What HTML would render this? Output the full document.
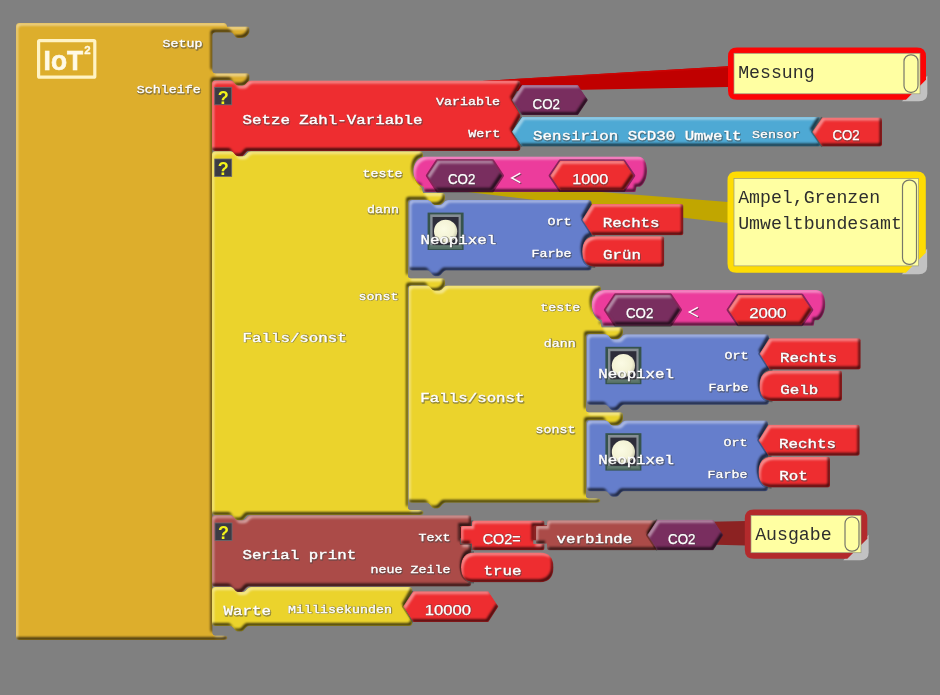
<!DOCTYPE html>
<html><head><meta charset="utf-8"><title>ArduBlock</title>
<style>
html,body{margin:0;padding:0;background:#808080;}
body{width:940px;height:695px;overflow:hidden;}
svg{display:block;filter:blur(.45px)}
text{font-family:"Liberation Mono",monospace;}
.L,.M{font-size:15.8px;fill:#fff;stroke:#fff;stroke-width:.45px;}
.S{font-size:13.35px;fill:#fff;stroke:#fff;stroke-width:.4px;}
.V{font-family:"Liberation Sans",sans-serif;font-size:13.8px;fill:#fff;stroke:#fff;stroke-width:.25px;}
.V.sh{stroke-width:1.3px !important;opacity:.45;}
.sh{fill:#444;stroke:#444 !important;stroke-width:1.7px !important;stroke-linejoin:round;opacity:.5;}
.cm{font-size:18.2px;fill:#2e2e2e;}
.q{font-family:"Liberation Sans",sans-serif;font-weight:bold;font-size:18px;fill:#f4f41a;}
.iot{font-family:"Liberation Sans",sans-serif;font-weight:bold;fill:#fffae6;stroke:#fffae6;stroke-width:.7px;}
</style></head><body>
<svg width="940" height="695" viewBox="0 0 940 695">
<defs>
<filter id="bv" x="-5%" y="-20%" width="110%" height="140%" color-interpolation-filters="sRGB">
  <feOffset in="SourceAlpha" dx="2" dy="2.6" result="o1"/>
  <feComposite in="SourceAlpha" in2="o1" operator="out" result="hl0"/>
  <feGaussianBlur in="hl0" stdDeviation="0.9" result="hl1"/>
  <feFlood flood-color="#ffffff" flood-opacity="0.48"/>
  <feComposite in2="hl1" operator="in" result="hl"/>
  <feOffset in="SourceAlpha" dx="-2.3" dy="-2.8" result="o2"/>
  <feComposite in="SourceAlpha" in2="o2" operator="out" result="sd0"/>
  <feGaussianBlur in="sd0" stdDeviation="0.95" result="sd1"/>
  <feFlood flood-color="#000000" flood-opacity="0.72"/>
  <feComposite in2="sd1" operator="in" result="sd"/>
  <feMerge result="m"><feMergeNode in="SourceGraphic"/><feMergeNode in="hl"/><feMergeNode in="sd"/></feMerge>
  <feComposite in="m" in2="SourceAlpha" operator="in"/>
</filter>
<radialGradient id="led" cx="0.42" cy="0.4" r="0.6">
  <stop offset="0" stop-color="#fbfbe4"/><stop offset="0.75" stop-color="#f3f2d4"/><stop offset="1" stop-color="#cfcfb4"/>
</radialGradient>
</defs>
<rect width="940" height="695" fill="#808080"/>

<path d="M212,97 L728,66.3 L728,87 Z" fill="#C00000"/>
<path d="M212,97 L728,66.3 L728,68 Z" fill="#CC0404"/>
<path d="M212,161.5 L728,202 L728,223 Z" fill="#C1A600"/>
<path d="M212,532 L746,521 L746,545.5 Z" fill="#8C2222"/>
<path d="M16,26 Q16,23 19,23 H224 Q227,23 227,26.5 H247.0 Q249.5,26.5 249.5,29.0 V31.1 C249.5,34.6 245.5,38.1 242.0,38.1 h-4 C234.5,38.1 234.0,32.6 230.5,32.6 H215.5 Q212.5,32.6 212.5,35.6 V70.2 Q212.5,73.2 215.5,73.2 H247.0 Q249.5,73.2 249.5,75.7 V78.8 C249.5,82.3 245.5,85.8 242.0,85.8 h-4 C234.5,85.8 234.0,80.3 230.5,80.3 H215.5 Q212.5,80.3 212.5,83.3 V632.4 Q212.5,635.4 215.5,635.4 H223.5 Q227.4,635.4 227.4,637.8 Q227.4,640 223.5,640 H19 Q16,640 16,637 Z" fill="#DDAE2C" filter="url(#bv)"/>
<rect x="38.6" y="40.6" width="56.2" height="36.6" rx="1" fill="none" stroke="#fff3c4" stroke-width="3.2"/>
<text class="iot" x="43.6" y="69.8" font-size="28" textLength="39.5" lengthAdjust="spacingAndGlyphs">IoT</text>
<text class="iot" x="84.2" y="54" font-size="11.5" style="stroke-width:.3px">2</text>
<g transform="translate(202.6,47) scale(1,0.85)"><text class="S sh" x=".6" y=".7" text-anchor="end">Setup</text><text class="S" text-anchor="end">Setup</text></g>
<g transform="translate(200.7,93.1) scale(1,0.85)"><text class="S sh" x=".6" y=".7" text-anchor="end">Schleife</text><text class="S" text-anchor="end">Schleife</text></g>
<path d="M212,83.5 Q212,80.5 215,80.5 H230.5 c3.5,0 4.5,5 8,5 h4 c3.5,0 4.5,-5 8.5,-5 H517.5 Q520.5,80.5 520.5,83.5 V85 L512.0,100 L520.5,115 V116.69999999999999 L512.0,131.7 L520.5,146.7 V148.0 Q520.5,151.0 517.5,151.0 H249 c-3.5,0 -4.5,5.6 -8,5.6 h-3 c-3.5,0 -4.5,-5.6 -8,-5.6 H215 Q212,151.0 212,148.0 Z" fill="#EE2D30" filter="url(#bv)"/>
<rect x="214.7" y="87.3" width="17" height="17.5" fill="#3b3b44" stroke="#6a6a70" stroke-width="0.8"/>
<text x="223.29999999999998" y="103.69999999999999" text-anchor="middle" class="q">?</text>
<g transform="translate(242.5,124) scale(1,0.85)"><text class="L sh" x=".6" y=".7">Setze Zahl-Variable</text><text class="L">Setze Zahl-Variable</text></g>
<g transform="translate(500,105.2) scale(1,0.85)"><text class="S sh" x=".6" y=".7" text-anchor="end">Variable</text><text class="S" text-anchor="end">Variable</text></g>
<g transform="translate(500.2,137) scale(1,0.85)"><text class="S sh" x=".6" y=".7" text-anchor="end">Wert</text><text class="S" text-anchor="end">Wert</text></g>
<path d="M522,85 L512,100.0 L522,115" fill="none" stroke="#000" stroke-opacity="0.3" stroke-width="2.6" stroke-linejoin="round"/>
<path d="M512,100.0 L522,85 H578 L588,100.0 L578,115 H522 Z" fill="#792E5F" filter="url(#bv)"/>
<text class="V sh" x="533.1999999999999" y="109.4" textLength="27.4" lengthAdjust="spacingAndGlyphs">CO2</text><text class="V" x="532.5999999999999" y="108.7" textLength="27.4" lengthAdjust="spacingAndGlyphs">CO2</text>
<path d="M522,117 L512,131.8 L522,146.6" fill="none" stroke="#000" stroke-opacity="0.3" stroke-width="2.6" stroke-linejoin="round"/>
<path d="M512,131.8 L522,117 H818.5 Q820.5,117 820.5,118 L812.0,131.8 L820.5,145.6 Q820.5,146.6 818.5,146.6 H522 Z" fill="#4EA9D4" filter="url(#bv)"/>
<g transform="translate(533,140.3) scale(1,0.85)"><text class="L sh" x=".6" y=".7">Sensirion SCD30 Umwelt</text><text class="L">Sensirion SCD30 Umwelt</text></g>
<g transform="translate(800,137.8) scale(1,0.85)"><text class="S sh" x=".6" y=".7" text-anchor="end">Sensor</text><text class="S" text-anchor="end">Sensor</text></g>
<path d="M822.3,117.6 L812.3,132.1 L822.3,146.6" fill="none" stroke="#000" stroke-opacity="0.3" stroke-width="2.6" stroke-linejoin="round"/>
<path d="M812.3,132.1 L822.3,117.6 H880.0 Q882.0,117.6 882.0,119.6 V144.6 Q882.0,146.6 880.0,146.6 H822.3 Z" fill="#EE2D30" filter="url(#bv)"/>
<text class="V sh" x="833.0" y="141.1" textLength="27.2" lengthAdjust="spacingAndGlyphs">CO2</text><text class="V" x="832.4" y="140.4" textLength="27.2" lengthAdjust="spacingAndGlyphs">CO2</text>
<path d="M212,154.3 Q212,151.3 215,151.3 H230.5 c3.5,0 4.5,5 8,5 h4 c3.5,0 4.5,-5 8.5,-5 H420 Q423,151.3 423,154.3 V157.0 C410.9,157.5 409.9,181.5 421.9,187.8 L422.9,192.0 L423.4,193 H442.5 Q445,193 445,195.5 V198.2 C445,201.7 441,205.2 437.5,205.2 h-4 C430,205.2 429.5,199.7 426,199.7 H411 Q408,199.7 408,202.7 V275.3 Q408,278.3 411,278.3 H442.5 Q445,278.3 445,280.8 V284.0 C445,287.5 441,291.0 437.5,291.0 h-4 C430,291.0 429.5,285.5 426,285.5 H411 Q408,285.5 408,288.5 V507 Q408,510 411,510 H420.1 Q423.6,510 423.6,512.5 Q423.6,515 420.1,515 H249 c-3.5,0 -4.5,5.6 -8,5.6 h-3 c-3.5,0 -4.5,-5.6 -8,-5.6 H215 Q212,515 212,512 Z" fill="#EBD32C" filter="url(#bv)"/>
<rect x="214.7" y="159" width="17" height="17.5" fill="#3b3b44" stroke="#6a6a70" stroke-width="0.8"/>
<text x="223.29999999999998" y="175.4" text-anchor="middle" class="q">?</text>
<g transform="translate(242.5,341.6) scale(1,0.85)"><text class="L sh" x=".6" y=".7">Falls/sonst</text><text class="L">Falls/sonst</text></g>
<g transform="translate(402.5,177.2) scale(1,0.85)"><text class="S sh" x=".6" y=".7" text-anchor="end">teste</text><text class="S" text-anchor="end">teste</text></g>
<g transform="translate(399,213.2) scale(1,0.85)"><text class="S sh" x=".6" y=".7" text-anchor="end">dann</text><text class="S" text-anchor="end">dann</text></g>
<g transform="translate(398.5,299.5) scale(1,0.85)"><text class="S sh" x=".6" y=".7" text-anchor="end">sonst</text><text class="S" text-anchor="end">sonst</text></g>
<path d="M426.4,156.5 H638.0 C644.0,156.5 647.0,162.5 647.0,171.0 C647.0,178.5 644.0,184.5 640.0,186.8 L636.5,186.8 L635.5,192.0 H424.4 L423.4,186.8 C417.4,184.5 413.4,178.5 413.4,171.5 C413.4,163.5 418.4,156.5 426.4,156.5 Z" fill="#EC3C9C" filter="url(#bv)"/>
<path d="M427.4,175.65 L437.4,160.5 H492.4 L502.4,175.65 L492.4,190.8 H437.4 Z" fill="none" stroke="#000" stroke-opacity="0.42" stroke-width="3.2" stroke-linejoin="round"/>
<path d="M427.4,175.65 L437.4,160.5 H492.4 L502.4,175.65 L492.4,190.8 H437.4 Z" fill="#792E5F" filter="url(#bv)"/>
<text class="V sh" x="448.50000000000006" y="184.6" textLength="27.4" lengthAdjust="spacingAndGlyphs">CO2</text><text class="V" x="447.90000000000003" y="183.9" textLength="27.4" lengthAdjust="spacingAndGlyphs">CO2</text>
<path d="M521.3,174.20000000000002 L512.7,178.9 L521.3,183.6" fill="none" stroke="#3a3a3a" stroke-opacity=".6" stroke-width="1.4"/>
<path d="M520.3,173.20000000000002 L511.7,177.9 L520.3,182.6" fill="none" stroke="#fff" stroke-width="1.4"/>
<path d="M550.2,175.65 L560.2,160.8 H623.7 L633.7,175.65 L623.7,190.5 H560.2 Z" fill="none" stroke="#000" stroke-opacity="0.42" stroke-width="3.2" stroke-linejoin="round"/>
<path d="M550.2,175.65 L560.2,160.8 H623.7 L633.7,175.65 L623.7,190.5 H560.2 Z" fill="#EE2D30" filter="url(#bv)"/>
<text class="V sh" x="572.8000000000001" y="184.6" textLength="36" lengthAdjust="spacingAndGlyphs">1000</text><text class="V" x="572.2" y="183.9" textLength="36" lengthAdjust="spacingAndGlyphs">1000</text>
<path d="M409.2,203 Q409.2,200 412.2,200 H427.7 c3.5,0 4.5,5 8,5 h4 c3.5,0 4.5,-5 8.5,-5 H588.7 Q591.7,200 591.7,203 V204 L583.2,219 L591.7,234 V236 C579.73,237 579.73,265 591.7,266 V267.6 Q591.7,270.6 588.7,270.6 H446.2 c-3.5,0 -4.5,5.6 -8,5.6 h-3 c-3.5,0 -4.5,-5.6 -8,-5.6 H412.2 Q409.2,270.6 409.2,267.6 Z" fill="#657ECC" filter="url(#bv)"/>
<g transform="translate(427.59999999999997,212.6)"><rect width="36" height="37.4" fill="#36534d"/><rect x="2.6" y="1.8" width="30.6" height="33" fill="#858d93"/><rect x="5" y="4.4" width="26" height="28.5" fill="#2d2d39"/><circle cx="18" cy="18.7" r="11.6" fill="url(#led)"/><rect x="1.5" y="32.6" width="33" height="3.8" fill="#5a7568" opacity="0.85"/></g>
<g transform="translate(420.4,243.8) scale(1,0.85)"><text class="L sh" x=".6" y=".7">Neopixel</text><text class="L">Neopixel</text></g>
<g transform="translate(571.5,225) scale(1,0.85)"><text class="S sh" x=".6" y=".7" text-anchor="end">Ort</text><text class="S" text-anchor="end">Ort</text></g>
<g transform="translate(571.5,257) scale(1,0.85)"><text class="S sh" x=".6" y=".7" text-anchor="end">Farbe</text><text class="S" text-anchor="end">Farbe</text></g>
<path d="M592.2,204.1 L582.2,219.65 L592.2,235.2" fill="none" stroke="#000" stroke-opacity="0.3" stroke-width="2.6" stroke-linejoin="round"/>
<path d="M582.2,219.65 L592.2,204.1 H681.4000000000001 Q683.4000000000001,204.1 683.4000000000001,206.1 V233.2 Q683.4000000000001,235.2 681.4000000000001,235.2 H592.2 Z" fill="#EE2D30" filter="url(#bv)"/>
<g transform="translate(602.7,227.4) scale(1,0.85)"><text class="M sh" x=".6" y=".7">Rechts</text><text class="M">Rechts</text></g>
<path d="M595.2,236.2 C587.2,236.2 582.2,241.2 582.2,251.5 C582.2,261.8 587.2,266.8 595.2,266.8" fill="none" stroke="#000" stroke-opacity="0.3" stroke-width="2.6" stroke-linejoin="round"/>
<path d="M582.2,251.5 C582.2,241.2 587.2,236.2 595.2,236.2 H662.2 Q664.2,236.2 664.2,238.2 V264.8 Q664.2,266.8 662.2,266.8 H595.2 C587.2,266.8 582.2,261.8 582.2,251.5 Z" fill="#EE2D30" filter="url(#bv)"/>
<g transform="translate(603.0,259.4) scale(1,0.85)"><text class="M sh" x=".6" y=".7">Grün</text><text class="M">Grün</text></g>
<path d="M408.5,288.5 Q408.5,285.5 411.5,285.5 H427.0 c3.5,0 4.5,5 8,5 h4 c3.5,0 4.5,-5 8.5,-5 H598 Q601,285.5 601,288.5 V290.5 C589.3,291 588.3,315 600.3,321.3 L601.3,325.5 L601.8,327.3 H620.5 Q623,327.3 623,329.8 V332.5 C623,336 619,339.5 615.5,339.5 h-4 C608,339.5 607.5,334 604,334 H589 Q586,334 586,337 V409.2 Q586,412.2 589,412.2 H620.5 Q623,412.2 623,414.7 V418.5 C623,422 619,425.5 615.5,425.5 h-4 C608,425.5 607.5,420 604,420 H589 Q586,420 586,423 V495.3 Q586,498.3 589,498.3 H596.9 Q600.4,498.3 600.4,500.55 Q600.4,502.8 596.9,502.8 H445.5 c-3.5,0 -4.5,5.6 -8,5.6 h-3 c-3.5,0 -4.5,-5.6 -8,-5.6 H411.5 Q408.5,502.8 408.5,499.8 Z" fill="#EBD32C" filter="url(#bv)"/>
<g transform="translate(420.3,402.3) scale(1,0.85)"><text class="L sh" x=".6" y=".7">Falls/sonst</text><text class="L">Falls/sonst</text></g>
<g transform="translate(580.2,310.8) scale(1,0.85)"><text class="S sh" x=".6" y=".7" text-anchor="end">teste</text><text class="S" text-anchor="end">teste</text></g>
<g transform="translate(575.8,346.7) scale(1,0.85)"><text class="S sh" x=".6" y=".7" text-anchor="end">dann</text><text class="S" text-anchor="end">dann</text></g>
<g transform="translate(575.5,433) scale(1,0.85)"><text class="S sh" x=".6" y=".7" text-anchor="end">sonst</text><text class="S" text-anchor="end">sonst</text></g>
<path d="M604.8,290 H816.1999999999999 C822.1999999999999,290 825.1999999999999,296 825.1999999999999,304.5 C825.1999999999999,312 822.1999999999999,318 818.1999999999999,320.3 L814.6999999999999,320.3 L813.6999999999999,325.8 H602.8 L601.8,320.3 C595.8,318 591.8,312 591.8,305 C591.8,297 596.8,290 604.8,290 Z" fill="#EC3C9C" filter="url(#bv)"/>
<path d="M605.4,309.95 L615.4,294.8 H670.4 L680.4,309.95 L670.4,325.1 H615.4 Z" fill="none" stroke="#000" stroke-opacity="0.42" stroke-width="3.2" stroke-linejoin="round"/>
<path d="M605.4,309.95 L615.4,294.8 H670.4 L680.4,309.95 L670.4,325.1 H615.4 Z" fill="#792E5F" filter="url(#bv)"/>
<text class="V sh" x="626.5" y="318.59999999999997" textLength="27.4" lengthAdjust="spacingAndGlyphs">CO2</text><text class="V" x="625.9" y="317.9" textLength="27.4" lengthAdjust="spacingAndGlyphs">CO2</text>
<path d="M698.9,308.3 L690.3,313 L698.9,317.7" fill="none" stroke="#3a3a3a" stroke-opacity=".6" stroke-width="1.4"/>
<path d="M697.9,307.3 L689.3,312 L697.9,316.7" fill="none" stroke="#fff" stroke-width="1.4"/>
<path d="M728.2,309.85 L738.2,295 H801.7 L811.7,309.85 L801.7,324.7 H738.2 Z" fill="none" stroke="#000" stroke-opacity="0.42" stroke-width="3.2" stroke-linejoin="round"/>
<path d="M728.2,309.85 L738.2,295 H801.7 L811.7,309.85 L801.7,324.7 H738.2 Z" fill="#EE2D30" filter="url(#bv)"/>
<text class="V sh" x="749.75" y="318.4" textLength="37.3" lengthAdjust="spacingAndGlyphs">2000</text><text class="V" x="749.15" y="317.7" textLength="37.3" lengthAdjust="spacingAndGlyphs">2000</text>
<path d="M587,337.2 Q587,334.2 590,334.2 H605.5 c3.5,0 4.5,5 8,5 h4 c3.5,0 4.5,-5 8.5,-5 H766 Q769,334.2 769,337.2 V338.2 L760.5,353.2 L769,368.2 V370.2 C757.03,371.2 757.03,399.2 769,400.2 V401.79999999999995 Q769,404.79999999999995 766,404.79999999999995 H624 c-3.5,0 -4.5,5.6 -8,5.6 h-3 c-3.5,0 -4.5,-5.6 -8,-5.6 H590 Q587,404.79999999999995 587,401.79999999999995 Z" fill="#657ECC" filter="url(#bv)"/>
<g transform="translate(605.4,346.8)"><rect width="36" height="37.4" fill="#36534d"/><rect x="2.6" y="1.8" width="30.6" height="33" fill="#858d93"/><rect x="5" y="4.4" width="26" height="28.5" fill="#2d2d39"/><circle cx="18" cy="18.7" r="11.6" fill="url(#led)"/><rect x="1.5" y="32.6" width="33" height="3.8" fill="#5a7568" opacity="0.85"/></g>
<g transform="translate(598.2,378.0) scale(1,0.85)"><text class="L sh" x=".6" y=".7">Neopixel</text><text class="L">Neopixel</text></g>
<g transform="translate(748.5,359.2) scale(1,0.85)"><text class="S sh" x=".6" y=".7" text-anchor="end">Ort</text><text class="S" text-anchor="end">Ort</text></g>
<g transform="translate(748.5,391.2) scale(1,0.85)"><text class="S sh" x=".6" y=".7" text-anchor="end">Farbe</text><text class="S" text-anchor="end">Farbe</text></g>
<path d="M769.5,338.3 L759.5,353.85 L769.5,369.40000000000003" fill="none" stroke="#000" stroke-opacity="0.3" stroke-width="2.6" stroke-linejoin="round"/>
<path d="M759.5,353.85 L769.5,338.3 H858.7 Q860.7,338.3 860.7,340.3 V367.40000000000003 Q860.7,369.40000000000003 858.7,369.40000000000003 H769.5 Z" fill="#EE2D30" filter="url(#bv)"/>
<g transform="translate(780,361.59999999999997) scale(1,0.85)"><text class="M sh" x=".6" y=".7">Rechts</text><text class="M">Rechts</text></g>
<path d="M772.5,370.4 C764.5,370.4 759.5,375.4 759.5,385.7 C759.5,396.0 764.5,401.0 772.5,401.0" fill="none" stroke="#000" stroke-opacity="0.3" stroke-width="2.6" stroke-linejoin="round"/>
<path d="M759.5,385.7 C759.5,375.4 764.5,370.4 772.5,370.4 H840.0 Q842.0,370.4 842.0,372.4 V399.0 Q842.0,401.0 840.0,401.0 H772.5 C764.5,401.0 759.5,396.0 759.5,385.7 Z" fill="#EE2D30" filter="url(#bv)"/>
<g transform="translate(780.3,393.59999999999997) scale(1,0.85)"><text class="M sh" x=".6" y=".7">Gelb</text><text class="M">Gelb</text></g>
<path d="M587,423.6 Q587,420.6 590,420.6 H605.5 c3.5,0 4.5,5 8,5 h4 c3.5,0 4.5,-5 8.5,-5 H765 Q768,420.6 768,423.6 V424.6 L759.5,439.6 L768,454.6 V456.6 C756.03,457.6 756.03,485.6 768,486.6 V488.20000000000005 Q768,491.20000000000005 765,491.20000000000005 H624 c-3.5,0 -4.5,5.6 -8,5.6 h-3 c-3.5,0 -4.5,-5.6 -8,-5.6 H590 Q587,491.20000000000005 587,488.20000000000005 Z" fill="#657ECC" filter="url(#bv)"/>
<g transform="translate(605.4,433.20000000000005)"><rect width="36" height="37.4" fill="#36534d"/><rect x="2.6" y="1.8" width="30.6" height="33" fill="#858d93"/><rect x="5" y="4.4" width="26" height="28.5" fill="#2d2d39"/><circle cx="18" cy="18.7" r="11.6" fill="url(#led)"/><rect x="1.5" y="32.6" width="33" height="3.8" fill="#5a7568" opacity="0.85"/></g>
<g transform="translate(598.2,464.40000000000003) scale(1,0.85)"><text class="L sh" x=".6" y=".7">Neopixel</text><text class="L">Neopixel</text></g>
<g transform="translate(747.5,445.6) scale(1,0.85)"><text class="S sh" x=".6" y=".7" text-anchor="end">Ort</text><text class="S" text-anchor="end">Ort</text></g>
<g transform="translate(747.5,477.6) scale(1,0.85)"><text class="S sh" x=".6" y=".7" text-anchor="end">Farbe</text><text class="S" text-anchor="end">Farbe</text></g>
<path d="M768.5,424.70000000000005 L758.5,440.25000000000006 L768.5,455.80000000000007" fill="none" stroke="#000" stroke-opacity="0.3" stroke-width="2.6" stroke-linejoin="round"/>
<path d="M758.5,440.25000000000006 L768.5,424.70000000000005 H857.7 Q859.7,424.70000000000005 859.7,426.70000000000005 V453.80000000000007 Q859.7,455.80000000000007 857.7,455.80000000000007 H768.5 Z" fill="#EE2D30" filter="url(#bv)"/>
<g transform="translate(779,448.0) scale(1,0.85)"><text class="M sh" x=".6" y=".7">Rechts</text><text class="M">Rechts</text></g>
<path d="M771.5,456.8 C763.5,456.8 758.5,461.8 758.5,472.1 C758.5,482.40000000000003 763.5,487.40000000000003 771.5,487.40000000000003" fill="none" stroke="#000" stroke-opacity="0.3" stroke-width="2.6" stroke-linejoin="round"/>
<path d="M758.5,472.1 C758.5,461.8 763.5,456.8 771.5,456.8 H828.0 Q830.0,456.8 830.0,458.8 V485.40000000000003 Q830.0,487.40000000000003 828.0,487.40000000000003 H771.5 C763.5,487.40000000000003 758.5,482.40000000000003 758.5,472.1 Z" fill="#EE2D30" filter="url(#bv)"/>
<g transform="translate(779.3,480.0) scale(1,0.85)"><text class="M sh" x=".6" y=".7">Rot</text><text class="M">Rot</text></g>
<path d="M212,518.3 Q212,515.3 215,515.3 H230.5 c3.5,0 4.5,5 8,5 h4 c3.5,0 4.5,-5 8.5,-5 H468.3 Q471.3,515.3 471.3,518.3 V526.0 H460.3 V544.0 H471.3 V552.5 C459.33,553.5 459.33,581.5 471.3,582.5 V583.5999999999999 Q471.3,586.5999999999999 468.3,586.5999999999999 H249 c-3.5,0 -4.5,5.6 -8,5.6 h-3 c-3.5,0 -4.5,-5.6 -8,-5.6 H215 Q212,586.5999999999999 212,583.5999999999999 Z" fill="#AB4B48" filter="url(#bv)"/>
<rect x="215" y="523" width="17" height="17.5" fill="#3b3b44" stroke="#6a6a70" stroke-width="0.8"/>
<text x="223.6" y="539.4" text-anchor="middle" class="q">?</text>
<g transform="translate(242.4,559.2) scale(1,0.85)"><text class="L sh" x=".6" y=".7">Serial print</text><text class="L">Serial print</text></g>
<g transform="translate(450.5,541) scale(1,0.85)"><text class="S sh" x=".6" y=".7" text-anchor="end">Text</text><text class="S" text-anchor="end">Text</text></g>
<g transform="translate(450.5,573) scale(1,0.85)"><text class="S sh" x=".6" y=".7" text-anchor="end">neue Zeile</text><text class="S" text-anchor="end">neue Zeile</text></g>
<path d="M536,542.8 V526.8 Q536,525.8 537,525.8 H547 V522.3 Q547,520.3 549,520.3 H655 Q657,520.3 657,521.3 L648.5,535.3 L657,549.3 Q657,550.3 655,550.3 H549 Q547,550.3 547,548.3 V543.8 H537 Q536,543.8 536,542.8 Z" fill="#AB4B48" filter="url(#bv)"/>
<g transform="translate(556.5,543.2) scale(1,0.85)"><text class="L sh" x=".6" y=".7">verbinde</text><text class="L">verbinde</text></g>
<path d="M472,520.6 V526.1 H461 V543.7 H472 V550.2" fill="none" stroke="#000" stroke-opacity="0.3" stroke-width="2.6" stroke-linejoin="round"/>
<path d="M461,542.7 V527.1 Q461,526.1 462,526.1 H472 V522.6 Q472,520.6 474,520.6 H542.5 Q544.5,520.6 544.5,522.6 V526.1 H533.5 V543.7 H544.5 V548.2 Q544.5,550.2 542.5,550.2 H474 Q472,550.2 472,548.2 V543.7 H462 Q461,543.7 461,542.7 Z" fill="#EE2D30" filter="url(#bv)"/>
<text class="V sh" x="483.25000000000006" y="544.2" textLength="37.9" lengthAdjust="spacingAndGlyphs">CO2=</text><text class="V" x="482.65000000000003" y="543.5" textLength="37.9" lengthAdjust="spacingAndGlyphs">CO2=</text>
<path d="M657.3,519.8 L647.3,535.0 L657.3,550.1999999999999" fill="none" stroke="#000" stroke-opacity="0.3" stroke-width="2.6" stroke-linejoin="round"/>
<path d="M647.3,535.0 L657.3,519.8 H713.3 L723.3,535.0 L713.3,550.1999999999999 H657.3 Z" fill="#792E5F" filter="url(#bv)"/>
<text class="V sh" x="668.6999999999999" y="544.2" textLength="27.4" lengthAdjust="spacingAndGlyphs">CO2</text><text class="V" x="668.0999999999999" y="543.5" textLength="27.4" lengthAdjust="spacingAndGlyphs">CO2</text>
<path d="M474,552.6 C466,552.6 461,557.6 461,567.4 C461,577.2 466,582.2 474,582.2" fill="none" stroke="#000" stroke-opacity="0.3" stroke-width="2.6" stroke-linejoin="round"/>
<path d="M461,567.4 C461,557.6 466,552.6 474,552.6 H540.5 C548.5,552.6 553.5,557.6 553.5,567.4 C553.5,577.2 548.5,582.2 540.5,582.2 H474 C466,582.2 461,577.2 461,567.4 Z" fill="#EE2D30" filter="url(#bv)"/>
<g transform="translate(483.5,575.2) scale(1,0.85)"><text class="M sh" x=".6" y=".7">true</text><text class="M">true</text></g>
<path d="M212,589.9 Q212,586.9 215,586.9 H230.5 c3.5,0 4.5,5 8,5 h4 c3.5,0 4.5,-5 8.5,-5 H409.3 Q412.3,586.9 412.3,589.9 V591.8 L403.8,606.8 L412.3,621.8 V622.9 Q412.3,625.9 409.3,625.9 H249 c-3.5,0 -4.5,5.6 -8,5.6 h-3 c-3.5,0 -4.5,-5.6 -8,-5.6 H215 Q212,625.9 212,622.9 Z" fill="#EBD32C" filter="url(#bv)"/>
<g transform="translate(223.5,615.2) scale(1,0.85)"><text class="L sh" x=".6" y=".7">Warte</text><text class="L">Warte</text></g>
<g transform="translate(392,612.6) scale(1,0.85)"><text class="S sh" x=".6" y=".7" text-anchor="end">Millisekunden</text><text class="S" text-anchor="end">Millisekunden</text></g>
<path d="M413.2,591.2 L403.2,606.6 L413.2,622.0" fill="none" stroke="#000" stroke-opacity="0.3" stroke-width="2.6" stroke-linejoin="round"/>
<path d="M403.2,606.6 L413.2,591.2 H488.4 L498.4,606.6 L488.4,622.0 H413.2 Z" fill="#EE2D30" filter="url(#bv)"/>
<text class="V sh" x="425.25000000000006" y="615.4000000000001" textLength="46.3" lengthAdjust="spacingAndGlyphs">10000</text><text class="V" x="424.65000000000003" y="614.7" textLength="46.3" lengthAdjust="spacingAndGlyphs">10000</text>
<path d="M927.3,75.8 V93.8 Q927.3,101.3 919,101.3 H902 Z" fill="#c2c2c2"/>
<path d="M737,47.5 H917 Q926,47.5 926,56.5 V79.8 L906,99.8 H737 Q728,99.8 728,90.8 V56.5 Q728,47.5 737,47.5 Z" fill="#FC0404"/>
<rect x="734" y="53.3" width="186" height="40.5" fill="#FFFFA2" stroke="#9a9a80" stroke-width="0.7"/>
<rect x="904" y="54.8" width="14" height="37.5" rx="6.5" fill="#FFFFA2" stroke="#77776a" stroke-width="1.2"/>
<text class="cm" x="738.2" y="77.6">Messung</text>
<path d="M927.0999999999999,248.7 V266.7 Q927.0999999999999,274.2 918.8,274.2 H901.8 Z" fill="#c2c2c2"/>
<path d="M736.5,171.5 H916.8 Q925.8,171.5 925.8,180.5 V252.7 L905.8,272.7 H736.5 Q727.5,272.7 727.5,263.7 V180.5 Q727.5,171.5 736.5,171.5 Z" fill="#FEDC04"/>
<rect x="734" y="178.6" width="184.5" height="87.3" fill="#FFFFA2" stroke="#9a9a80" stroke-width="0.7"/>
<rect x="902.5" y="180.1" width="14" height="84.3" rx="6.5" fill="#FFFFA2" stroke="#77776a" stroke-width="1.2"/>
<text class="cm" x="738.2" y="202.9">Ampel,Grenzen</text>
<text class="cm" x="738.2" y="229.3">Umweltbundesamt</text>
<path d="M868.5999999999999,534.7 V552.7 Q868.5999999999999,560.2 860.3,560.2 H843.3 Z" fill="#c2c2c2"/>
<path d="M753.8,509.5 H858.3 Q867.3,509.5 867.3,518.5 V538.7 L847.3,558.7 H753.8 Q744.8,558.7 744.8,549.7 V518.5 Q744.8,509.5 753.8,509.5 Z" fill="#B32A2C"/>
<rect x="751" y="515.5" width="110" height="37.2" fill="#FFFFA2" stroke="#9a9a80" stroke-width="0.7"/>
<rect x="845" y="517.0" width="14" height="34.2" rx="6.5" fill="#FFFFA2" stroke="#77776a" stroke-width="1.2"/>
<text class="cm" x="755.2" y="539.8">Ausgabe</text>
</svg></body></html>
